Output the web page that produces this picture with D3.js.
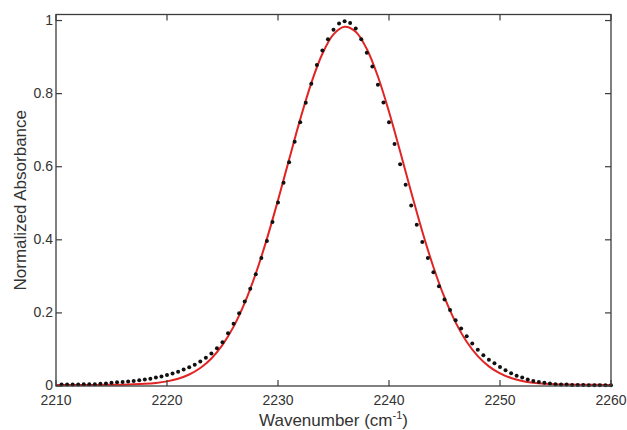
<!DOCTYPE html>
<html>
<head>
<meta charset="utf-8">
<script src="https://cdn.jsdelivr.net/npm/d3@7"></script>
<style>
  body { margin: 0; background: #fff; }
  svg { display: block; font-family: "Liberation Sans", Arial, sans-serif; }
  .frame { fill: none; stroke: #3c3c3c; stroke-width: 1.3; }
  .tick-line { stroke: #3c3c3c; stroke-width: 1.2; }
  .tick-label { fill: #333; font-size: 14px; }
  .axis-title { fill: #333; font-size: 17px; }
</style>
</head>
<body>
<svg width="627" height="430"></svg>
<script>
// measured points (black dots)
const wavenumbers = [
  2210.5, 2211, 2211.5, 2212, 2212.5, 2213, 2213.5, 2214, 2214.5, 2215,
  2215.5, 2216, 2216.5, 2217, 2217.5, 2218, 2218.5, 2219, 2219.5, 2220,
  2220.5, 2221, 2221.5, 2222, 2222.5, 2223, 2223.5, 2224, 2224.5, 2225,
  2225.5, 2226, 2226.5, 2227, 2227.5, 2228, 2228.5, 2229, 2229.5, 2230,
  2230.5, 2231, 2231.5, 2232, 2232.5, 2233, 2233.5, 2234, 2234.5, 2235,
  2235.5, 2236, 2236.5, 2237, 2237.5, 2238, 2238.5, 2239, 2239.5, 2240,
  2240.5, 2241, 2241.5, 2242, 2242.5, 2243, 2243.5, 2244, 2244.5, 2245,
  2245.5, 2246, 2246.5, 2247, 2247.5, 2248, 2248.5, 2249, 2249.5, 2250,
  2250.5, 2251, 2251.5, 2252, 2252.5, 2253, 2253.5, 2254, 2254.5, 2255,
  2255.5, 2256, 2256.5, 2257, 2257.5, 2258, 2258.5, 2259, 2259.5, 2260
];
const absorbance = [
  0.004, 0.004, 0.004, 0.004, 0.005, 0.005, 0.005, 0.006, 0.007, 0.009,
  0.010, 0.011, 0.012, 0.014, 0.016, 0.018, 0.020, 0.023, 0.026, 0.030,
  0.034, 0.039, 0.045, 0.051, 0.058, 0.067, 0.077, 0.089, 0.103, 0.120,
  0.144, 0.170, 0.199, 0.231, 0.266, 0.306, 0.350, 0.397, 0.449, 0.502,
  0.556, 0.612, 0.668, 0.722, 0.775, 0.827, 0.878, 0.918, 0.949, 0.975,
  0.992, 0.998, 0.993, 0.978, 0.949, 0.912, 0.874, 0.824, 0.776, 0.722,
  0.662, 0.607, 0.551, 0.494, 0.441, 0.394, 0.350, 0.311, 0.273, 0.237,
  0.208, 0.180, 0.157, 0.136, 0.116, 0.099, 0.084, 0.072, 0.062, 0.052,
  0.043, 0.035, 0.028, 0.023, 0.018, 0.014, 0.011, 0.009, 0.007, 0.005,
  0.004, 0.004, 0.003, 0.003, 0.003, 0.002, 0.002, 0.002, 0.002, 0.002
];

// fitted curve (red line)
const fitWavenumbers = [
  2210, 2211, 2212, 2213, 2214, 2215, 2216, 2217, 2218, 2219,
  2220, 2221, 2222, 2223, 2224, 2225, 2226, 2227, 2228, 2229,
  2230, 2231, 2232, 2233, 2234, 2235, 2236, 2237, 2238, 2239,
  2240, 2241, 2242, 2243, 2244, 2245, 2246, 2247, 2248, 2249,
  2250, 2251, 2252, 2253, 2254, 2255, 2256, 2257, 2258, 2259, 2260
];
const fitAbsorbance = [
  0.003, 0.003, 0.003, 0.003, 0.003, 0.0034, 0.0037, 0.0045, 0.0059, 0.0084,
  0.0127, 0.0199, 0.0315, 0.0492, 0.0753, 0.1124, 0.1624, 0.2274, 0.3078, 0.4025,
  0.5084, 0.6198, 0.7296, 0.8289, 0.9090, 0.9621, 0.9828, 0.9690, 0.9220, 0.8468,
  0.7505, 0.6422, 0.5303, 0.4229, 0.3257, 0.2423, 0.1742, 0.1212, 0.0818, 0.0537,
  0.0345, 0.0218, 0.0139, 0.0091, 0.0063, 0.0047, 0.0039, 0.0034, 0.0032, 0.0031, 0.003
];

const xTicks = [2210, 2220, 2230, 2240, 2250, 2260];
const yTicks = [0, 0.2, 0.4, 0.6, 0.8, 1];

const margin = {left: 56, right: 16, top: 14.5, bottom: 44};
const width = 627, height = 430;

const x = d3.scaleLinear()
    .domain([2210, 2260])
    .range([margin.left, width - margin.right]);

const y = d3.scaleLinear()
    .domain([0, 1.0165])
    .range([height - margin.bottom, margin.top]);

const svg = d3.select("svg");

const points = wavenumbers.map((w, i) => ({w: w, a: absorbance[i]}));
const fit = fitWavenumbers.map((w, i) => ({w: w, a: fitAbsorbance[i]}));

// Fit line
const line = d3.line()
    .x(d => x(d.w))
    .y(d => y(d.a))
    .curve(d3.curveCatmullRom);

svg.append("path")
    .datum(fit)
    .attr("fill", "none")
    .attr("stroke", "#e02424")
    .attr("stroke-width", 2)
    .attr("d", line);

// Data points
svg.append("g")
    .selectAll("circle")
    .data(points)
    .enter().append("circle")
    .attr("cx", d => x(d.w))
    .attr("cy", d => y(d.a))
    .attr("r", 2)
    .attr("fill", "#111");

// Frame
const x0 = x.range()[0], x1 = x.range()[1];
const yb = y.range()[0], yt = y.range()[1];
svg.append("rect")
    .attr("class", "frame")
    .attr("x", x0).attr("y", yt)
    .attr("width", x1 - x0).attr("height", yb - yt);

const tickLen = 6;
const ticks = svg.append("g");

// inward ticks, bottom and top
xTicks.forEach(t => {
    ticks.append("line").attr("class", "tick-line")
        .attr("x1", x(t)).attr("x2", x(t))
        .attr("y1", yb).attr("y2", yb - tickLen);
    ticks.append("line").attr("class", "tick-line")
        .attr("x1", x(t)).attr("x2", x(t))
        .attr("y1", yt).attr("y2", yt + tickLen);
    ticks.append("text").attr("class", "tick-label")
        .attr("x", x(t)).attr("y", yb + 19)
        .attr("text-anchor", "middle")
        .text(t);
});

// inward ticks, left and right
yTicks.forEach(t => {
    ticks.append("line").attr("class", "tick-line")
        .attr("x1", x0).attr("x2", x0 + tickLen)
        .attr("y1", y(t)).attr("y2", y(t));
    ticks.append("line").attr("class", "tick-line")
        .attr("x1", x1).attr("x2", x1 - tickLen)
        .attr("y1", y(t)).attr("y2", y(t));
    ticks.append("text").attr("class", "tick-label")
        .attr("x", x0 - 3).attr("y", y(t) + 4)
        .attr("text-anchor", "end")
        .text(t);
});

// Axis titles
const xTitle = svg.append("text")
    .attr("class", "axis-title")
    .attr("x", (x0 + x1) / 2)
    .attr("y", 426)
    .attr("text-anchor", "middle");
xTitle.append("tspan").text("Wavenumber (cm");
xTitle.append("tspan").attr("font-size", "11px").attr("dy", -7).text("-1");
xTitle.append("tspan").attr("dy", 7).text(")");

svg.append("text")
    .attr("class", "axis-title")
    .attr("transform", `translate(26, ${(yb + yt) / 2}) rotate(-90)`)
    .attr("text-anchor", "middle")
    .text("Normalized Absorbance");
</script>
</body>
</html>
